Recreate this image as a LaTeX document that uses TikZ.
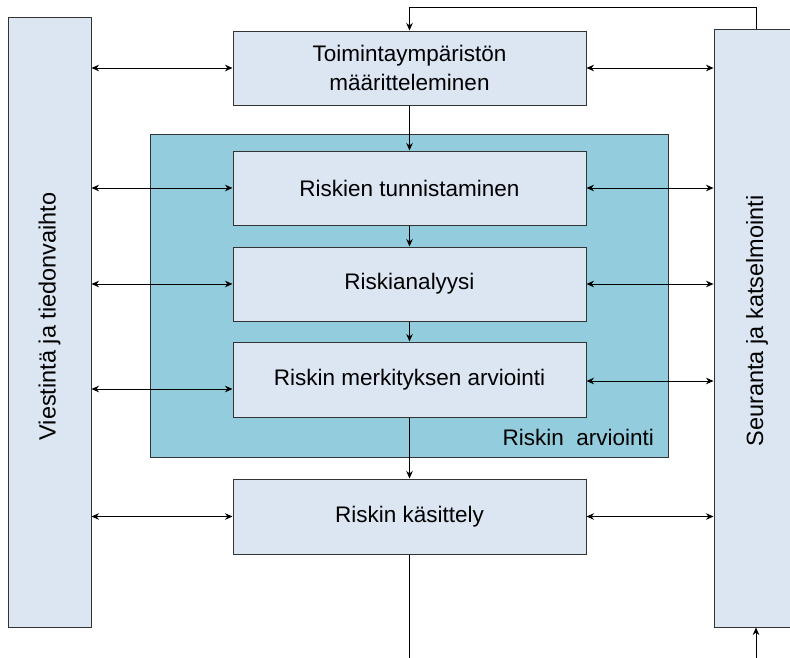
\documentclass[tikz,border=0pt]{standalone}
\usepackage{fontspec}
\setmainfont{Liberation Sans}
\usepackage{tikz}
\usetikzlibrary{arrows.meta}
\usepackage{xcolor}

\definecolor{kasten}{HTML}{DCE6F2}
\definecolor{arvio}{HTML}{93CDDD}

\begin{document}
\begin{tikzpicture}[x=1pt,y=-1pt,
	kastenstil/.style={draw=black!80,line width=1pt,fill=kasten,minimum width=353pt,minimum height=74pt,inner sep=0pt,align=center},
	balkenstil/.style={draw=black!80,line width=1pt,fill=kasten,inner sep=0pt},
	balkentext/.style={rotate=90,font=\fontsize{23.5}{29}\selectfont},
	pfeil/.style={line width=0.8pt,>={Stealth[length=7.5pt,width=6.5pt]}},
	font=\fontsize{22.5}{29}\selectfont]
			% Rahmen festlegen
			\useasboundingbox (0,0) rectangle (790,657);
			
			% Seitenbalken zeichnen
			\node[balkenstil,minimum width=83pt,minimum height=610pt] (viest) at (49.5,322) {};
			\node[balkenstil,minimum width=96pt,minimum height=598pt] (seur) at (762,328) {};
			\node[balkentext] (viesttext) at ([yshift=5.5pt]viest.center) {Viestintä ja tiedonvaihto};
			\node[balkentext] (seurtext) at (757,321) {Seuranta ja katselmointi};
			
			% Bereich Riskin arviointi
			\node[draw=black!80,line width=1pt,fill=arvio,minimum width=518pt,minimum height=323pt] (arviointi) at (409,295.5) {};
			\node[anchor=south east] (arvlabel) at ([xshift=-11pt,yshift=8pt]arviointi.south east) {Riskin~~arviointi};
			
			% Kaesten zeichnen
			\node[kastenstil] (toim) at (409.5,68) {Toimintaympäristön\\määritteleminen};
			\node[kastenstil] (tunn) at (409.5,188) {Riskien tunnistaminen};
			\node[kastenstil] (anal) at (409.5,284) {Riskianalyysi};
			\node[kastenstil,minimum height=75pt] (merk) at (409.5,379.5) {Riskin merkityksen arviointi};
			\node[kastenstil,minimum height=75pt] (kaes) at (409.5,516.5) {Riskin käsittely};
			
			% Pfeile nach unten
			\begin{scope}[pfeil]
				\draw[->] (toim) to (tunn);
				\draw[->] (tunn) to (anal);
				\draw[->] (anal) to (merk);
				\draw[->] (merk) to (kaes);
			\end{scope}
			
			% Pfeile zu den Seitenbalken
			\begin{scope}[pfeil]
				\draw[<->] (viest.east |- toim.west) to (toim.west);
				\draw[<->] (viest.east |- tunn.west) to (tunn.west);
				\draw[<->] (viest.east |- anal.west) to (anal.west);
				\draw[<->] ([yshift=-9.5pt]viest.east |- merk.west) to ([yshift=-9.5pt]merk.west);
				\draw[<->] (viest.east |- kaes.west) to (kaes.west);
				\draw[<->] (toim.east) to (seur.west |- toim.east);
				\draw[<->] (tunn.east) to (seur.west |- tunn.east);
				\draw[<->] (anal.east) to (seur.west |- anal.east);
				\draw[<->] ([yshift=-1.5pt]merk.east) to ([yshift=-1.5pt]seur.west |- merk.east);
				\draw[<->] (kaes.east) to (seur.west |- kaes.east);
			\end{scope}
			
			% Rueckkopplung und Ausgang
			\coordinate (oben) at (756,7);
			\coordinate (aus) at (409.5,660);
			\coordinate (ein) at (756,660);
			\begin{scope}[pfeil]
				\draw[->] (oben |- seur.north) to (oben) -| (toim.north);
				\draw (kaes.south) to (aus);
				\draw[->] (ein) to (ein |- seur.south);
			\end{scope}
	\end{tikzpicture}
\end{document}
